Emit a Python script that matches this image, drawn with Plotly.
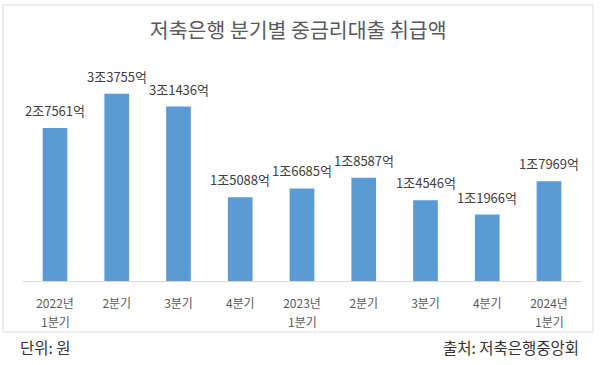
import plotly.graph_objects as go

categories = ["2022년 1분기", "2022년 2분기", "2022년 3분기", "2022년 4분기",
              "2023년 1분기", "2023년 2분기", "2023년 3분기", "2023년 4분기",
              "2024년 1분기"]
tick_line1 = ["2022년", "2분기", "3분기", "4분기", "2023년", "2분기", "3분기", "4분기", "2024년"]
tick_line2 = ["1분기", "", "", "", "1분기", "", "", "", "1분기"]
values = [27561, 33755, 31436, 15088, 16685, 18587, 14546, 11966, 17969]  # 억 원
value_labels = ["2조7561억", "3조3755억", "3조1436억", "1조5088억", "1조6685억",
                "1조8587억", "1조4546억", "1조1966억", "1조7969억"]

FONT = "Noto Sans CJK KR"
W, H = 600, 365
L, R, T, B = 23, 19, 59, 84
pw, ph = W - L - R, H - T - B

fig = go.Figure(go.Bar(
    x=categories, y=values, marker=dict(color="#5B9BD5", line=dict(width=0)),
    hoverinfo="skip",
))

annotations = []
for c, v, lab in zip(categories, values, value_labels):
    annotations.append(dict(x=c, y=v, xref="x", yref="y", text=lab, showarrow=False,
                            yanchor="bottom", yshift=6,
                            font=dict(family=FONT, size=13, color="#404040")))
for c, t2 in zip(categories, tick_line2):
    if t2:
        annotations.append(dict(x=c, y=(281 - 321) / ph, xref="x", yref="paper", text=t2,
                                showarrow=False, yanchor="middle",
                                font=dict(family=FONT, size=12, color="#595959")))

def px(x):
    return (x - L) / pw

def py(y):
    return (H - B - y) / ph

annotations.append(dict(x=px(18), y=py(347), xref="paper", yref="paper", text="단위: 원",
                        showarrow=False, xanchor="left", yanchor="middle",
                        font=dict(family=FONT, size=15.5, color="#333333")))
annotations.append(dict(x=px(581), y=py(347), xref="paper", yref="paper", text="출처: 저축은행중앙회",
                        showarrow=False, xanchor="right", yanchor="middle",
                        font=dict(family=FONT, size=15.5, color="#333333")))

fig.update_layout(
    width=W, height=H,
    margin=dict(l=L, r=R, t=T, b=B, pad=0),
    paper_bgcolor="white", plot_bgcolor="white",
    bargap=0.6,
    showlegend=False,
    title=dict(text="저축은행 분기별 중금리대출 취급액", x=0.497, xanchor="center",
               y=1 - 31 / H, yanchor="middle",
               font=dict(family=FONT, size=20.5, color="#595959")),
    xaxis=dict(tickmode="array", tickvals=categories, ticktext=tick_line1,
               showgrid=False, showline=True, linecolor="#D9D9D9", linewidth=1,
               ticks="", ticklabelstandoff=12,
               tickfont=dict(family=FONT, size=12, color="#595959"),
               fixedrange=True),
    yaxis=dict(range=[0, 40000], visible=False, showgrid=False, fixedrange=True),
    annotations=annotations,
    shapes=[dict(type="rect", xref="paper", yref="paper",
                 x0=px(3), x1=px(593), y0=py(332), y1=py(5),
                 line=dict(color="#D9D9D9", width=1), fillcolor="rgba(0,0,0,0)",
                 layer="below")],
)

fig.write_html("out.html", config={"displayModeBar": False},
               post_script="document.body.style.margin='0px';")
